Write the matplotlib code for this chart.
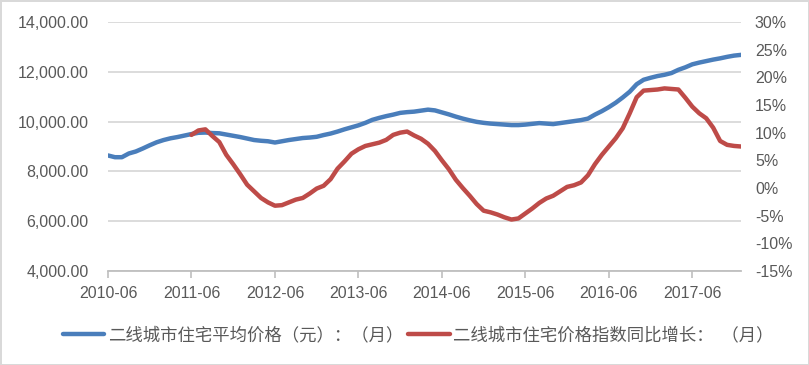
import matplotlib
matplotlib.use("Agg")
import matplotlib.pyplot as plt
from matplotlib.ticker import FuncFormatter, FixedLocator
import numpy as np

plt.rcParams['font.family'] = ['Liberation Sans', 'Noto Sans CJK SC', 'DejaVu Sans']

# monthly data, 2010-06 .. 2018-01
avg_price = [8640, 8570, 8570, 8720, 8800, 8920, 9050, 9170, 9260, 9330, 9380, 9440,
             9500, 9550, 9560, 9540, 9530, 9480, 9430, 9380, 9320, 9260, 9230, 9210,
             9160, 9210, 9260, 9300, 9340, 9360, 9390, 9460, 9520, 9600, 9690, 9770,
             9850, 9950, 10070, 10150, 10220, 10280, 10350, 10380, 10400, 10440, 10480, 10450,
             10370, 10290, 10200, 10120, 10050, 9990, 9950, 9920, 9900, 9880, 9860, 9860,
             9880, 9910, 9940, 9920, 9900, 9940, 9980, 10020, 10060, 10120, 10280, 10420,
             10580, 10760, 10970, 11200, 11500, 11680, 11760, 11830, 11880, 11950, 12080, 12180,
             12300, 12370, 12430, 12490, 12540, 12600, 12650, 12680]

# YoY growth (%), starting 2011-06
yoy_start = 12
yoy_growth = [9.6, 10.4, 10.6, 9.4, 8.3, 6.0, 4.3, 2.5, 0.6, -0.6, -1.8, -2.6,
              -3.2, -3.1, -2.6, -2.1, -1.8, -1.0, -0.1, 0.4, 1.6, 3.5, 4.8, 6.2,
              7.0, 7.6, 7.9, 8.2, 8.7, 9.6, 10.0, 10.2, 9.5, 8.9, 8.0, 6.7,
              5.0, 3.4, 1.5, 0.0, -1.4, -2.9, -4.1, -4.4, -4.8, -5.3, -5.7, -5.5,
              -4.6, -3.7, -2.7, -1.9, -1.4, -0.6, 0.2, 0.5, 1.0, 2.3, 4.3, 6.0,
              7.5, 9.0, 10.8, 13.5, 16.4, 17.6, 17.7, 17.8, 18.0, 17.9, 17.8, 16.3,
              14.7, 13.5, 12.6, 10.9, 8.5, 7.8, 7.6, 7.5]

tick_labels = ['2010-06', '2011-06', '2012-06', '2013-06', '2014-06', '2015-06', '2016-06', '2017-06']
left_ticks = [4000, 6000, 8000, 10000, 12000, 14000]
right_ticks = [-15, -10, -5, 0, 5, 10, 15, 20, 25, 30]

label_blue = '二线城市住宅平均价格（元）：（月）'
label_red = '二线城市住宅价格指数同比增长：  （月）'

blue = '#4A7EBB'
red = '#BE4B48'
txt = '#595959'

fig = plt.figure(figsize=(8.09, 3.65), dpi=100)
fig.patch.set_facecolor('white')
fig.patch.set_edgecolor('#d9d9d9')
fig.patch.set_linewidth(2)

ax = fig.add_axes([108/809, 1-271/365, (741-108)/809, (271-22)/365])
x_all = np.arange(len(avg_price))
x_red = np.arange(yoy_start, yoy_start + len(yoy_growth))

ax.set_ylim(4000, 14000)
ax.set_xlim(0, len(avg_price) - 1)
ax.yaxis.set_major_locator(FixedLocator(left_ticks))
ax.yaxis.set_major_formatter(FuncFormatter(lambda v, p: f'{v:,.2f}'))
ax.grid(axis='y', color='#d9d9d9', linewidth=1.3)
ax.set_axisbelow(True)
ax.set_xticks([12 * i for i in range(len(tick_labels))])
ax.set_xticklabels(tick_labels)
for s in ['top', 'right', 'left']:
    ax.spines[s].set_visible(False)
ax.spines['bottom'].set_color('#bfbfbf')
ax.spines['bottom'].set_linewidth(1.3)
ax.tick_params(axis='x', colors='#bfbfbf', length=5, width=1.2, labelcolor=txt, labelsize=11.5, pad=6)
ax.tick_params(axis='y', length=0, labelcolor=txt, labelsize=11.5, pad=14)

ax2 = ax.twinx()
ax2.set_ylim(-15, 30)
ax2.yaxis.set_major_locator(FixedLocator(right_ticks))
ax2.yaxis.set_major_formatter(FuncFormatter(lambda v, p: f'{v:.0f}%'))
for s in ['top', 'right', 'left', 'bottom']:
    ax2.spines[s].set_visible(False)
ax2.tick_params(axis='y', length=0, labelcolor=txt, labelsize=11.5, pad=10)

l1, = ax.plot(x_all, avg_price, color=blue, linewidth=3.2, solid_capstyle='round', zorder=3)
l2, = ax2.plot(x_red, yoy_growth, color=red, linewidth=3.2, solid_capstyle='round', zorder=3)

leg = fig.legend([l1, l2], [label_blue, label_red], ncol=2, loc='center',
                 bbox_to_anchor=(0.517, 1-335/365), frameon=False,
                 handlelength=2.4, handletextpad=0.2, columnspacing=0.3,
                 prop={'family': ['Noto Sans CJK SC', 'DejaVu Sans'], 'size': 12.5})
for t in leg.get_texts():
    t.set_color(txt)

fig.savefig('out.png', dpi=100)
